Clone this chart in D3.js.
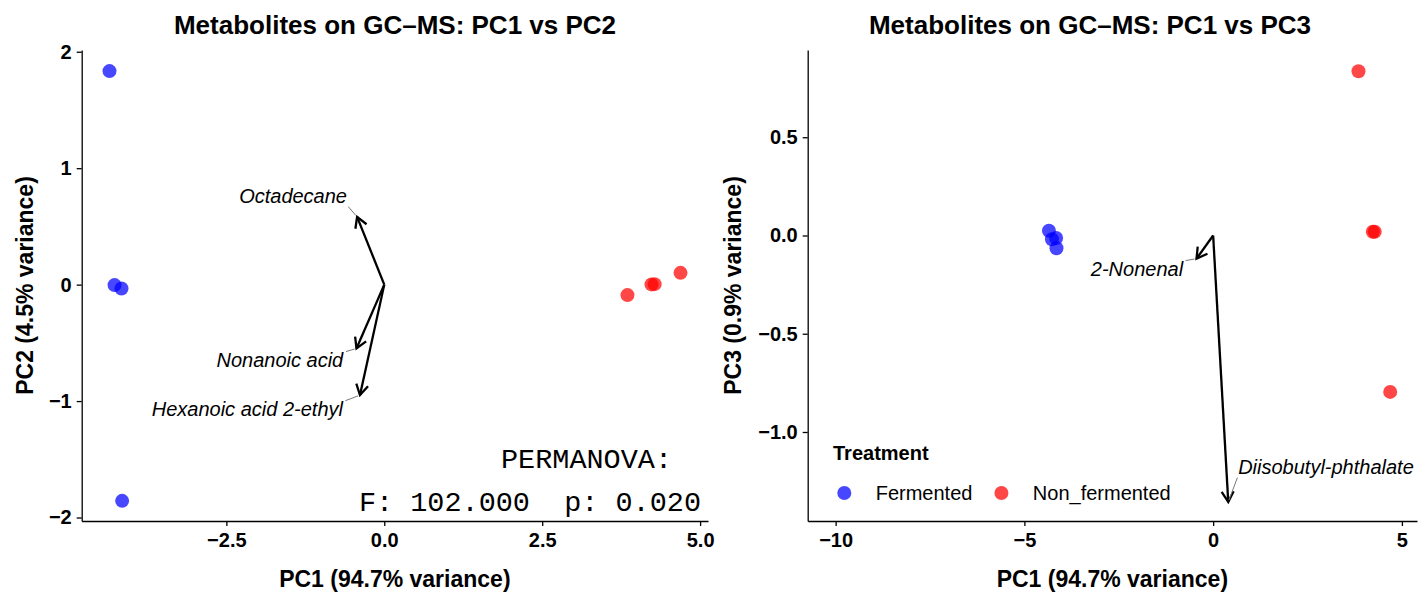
<!DOCTYPE html>
<html lang="en">
<head>
    <meta charset="UTF-8">
    <title>Metabolites on GC-MS PCA</title>
    <script src="https://cdn.jsdelivr.net/npm/d3@7/dist/d3.min.js"></script>
    <style>
        body { margin: 0; background: #fff; }
        svg { font-family: "Liberation Sans", Arial, Helvetica, sans-serif; }
        .axis path, .axis line { stroke: #000; stroke-width: 1.3; }
        .axis text { font-size: 20px; font-weight: bold; fill: #000; }
        .title { font-size: 26px; font-weight: bold; }
        .axtitle { font-size: 23px; font-weight: bold; }
        .varlab { font-size: 20px; font-style: italic; }
        .perm { font-family: "Liberation Mono", "Courier New", monospace; font-size: 28.5px; white-space: pre; }
    </style>
</head>
<body>
<div id="chart"></div>

<script>
    const width = 1419;
    const height = 594;

    // scores per sample
    const groups = ["Fermented", "Fermented", "Fermented", "Fermented",
        "Non_fermented", "Non_fermented", "Non_fermented", "Non_fermented"];
    const pc1 = [-4.35, -4.27, -4.16, -4.15, 3.85, 4.23, 4.28, 4.69];
    const pc2 = [1.834, -0.004, -0.033, -1.857, -0.090, 0.002, 0.004, 0.101];
    const pc3 = [0.024, -0.019, -0.013, -0.065, 0.836, 0.019, 0.019, -0.796];

    const groupNames = ["Fermented", "Non_fermented"];
    const groupColors = ["#0000ff", "#ff0000"];

    // loading arrows, PC1 vs PC2
    const vars12 = ["Octadecane", "Nonanoic acid", "Hexanoic acid 2-ethyl"];
    const load12x = [-0.43, -0.44, -0.385];
    const load12y = [0.582, -0.548, -0.949];
    const lab12x = [-0.59, -0.65, -0.654];
    const lab12y = [0.760, -0.649, -1.072];

    // loading arrows, PC1 vs PC3
    const vars13 = ["2-Nonenal", "Diisobutyl-phthalate"];
    const load13x = [-0.44, 0.40];
    const load13y = [-0.118, -1.356];
    const lab13x = [-0.795, 0.662];
    const lab13y = [-0.170, -1.177];

    const ticks12x = [-2.5, 0, 2.5, 5];
    const ticks12y = [-2, -1, 0, 1, 2];
    const ticks13x = [-10, -5, 0, 5];
    const ticks13y = [-1, -0.5, 0, 0.5];

    const permLines = ["PERMANOVA:", "F: 102.000  p: 0.020"];

    const color = d3.scaleOrdinal().domain(groupNames).range(groupColors);

    const svg = d3.select("#chart").append("svg")
        .attr("width", width)
        .attr("height", height);

    function drawPanel(opt) {
        const x = d3.scaleLinear().domain(opt.xDom).range([opt.left, opt.right]);
        const y = d3.scaleLinear().domain(opt.yDom).range([opt.bottom, opt.top]);
        const g = svg.append("g");

        g.append("g").attr("class", "axis")
            .attr("transform", "translate(0," + opt.bottom + ")")
            .call(d3.axisBottom(x).tickValues(opt.xTicks).tickSize(5).tickSizeOuter(0)
                .tickPadding(7).tickFormat(opt.xFmt));
        g.append("g").attr("class", "axis")
            .attr("transform", "translate(" + opt.left + ",0)")
            .call(d3.axisLeft(y).tickValues(opt.yTicks).tickSize(5).tickSizeOuter(0)
                .tickPadding(5).tickFormat(opt.yFmt));

        // points
        const yv = opt.yVals;
        g.selectAll("circle.pt").data(pc1).enter()
            .append("circle")
            .attr("class", "pt")
            .attr("cx", d => x(d))
            .attr("cy", (d, i) => y(yv[i]))
            .attr("r", 7)
            .attr("fill", (d, i) => color(groups[i]))
            .attr("fill-opacity", 0.72);

        // loading arrows
        const x0 = x(0), y0 = y(0);
        opt.vars.forEach(function (name, i) {
            const tx = x(opt.lx[i]), ty = y(opt.ly[i]);
            g.append("line")
                .attr("x1", x0).attr("y1", y0).attr("x2", tx).attr("y2", ty)
                .attr("stroke", "#000").attr("stroke-width", 2.3);
            const ang = Math.atan2(ty - y0, tx - x0);
            const hl = 12, ha = Math.PI / 6;
            const p1 = [tx - hl * Math.cos(ang - ha), ty - hl * Math.sin(ang - ha)];
            const p2 = [tx - hl * Math.cos(ang + ha), ty - hl * Math.sin(ang + ha)];
            g.append("path")
                .attr("d", "M" + p1 + "L" + tx + "," + ty + "L" + p2)
                .attr("fill", "none").attr("stroke", "#000").attr("stroke-width", 2.3)
                .attr("stroke-linejoin", "miter");

            const lx = x(opt.tx[i]), ly = y(opt.ty[i]);
            const t = g.append("text").attr("class", "varlab")
                .attr("x", lx).attr("y", ly).attr("dy", "0.35em")
                .attr("text-anchor", opt.tx[i] < opt.lx[i] ? "end" : "start")
                .text(name);
            const bb = t.node().getBBox();
            const sx = Math.max(bb.x, Math.min(tx, bb.x + bb.width));
            const sy = Math.max(bb.y + 3, Math.min(ty, bb.y + bb.height - 2));
            const dx = tx - sx, dy = ty - sy, len = Math.hypot(dx, dy);
            g.append("line")
                .attr("x1", sx + dx / len * 2).attr("y1", sy + dy / len * 2)
                .attr("x2", tx - dx / len * 2).attr("y2", ty - dy / len * 2)
                .attr("stroke", "#777").attr("stroke-width", 1);
        });

        g.append("text").attr("class", "title")
            .attr("x", opt.titleX).attr("y", 34).attr("text-anchor", "middle")
            .text(opt.title);
        g.append("text").attr("class", "axtitle")
            .attr("x", (opt.left + opt.right) / 2).attr("y", 587).attr("text-anchor", "middle")
            .text(opt.xTitle);
        g.append("text").attr("class", "axtitle")
            .attr("transform", "translate(" + opt.yTitleX + "," + (opt.top + opt.bottom) / 2 + ") rotate(-90)")
            .attr("text-anchor", "middle")
            .text(opt.yTitle);
        return {g: g, x: x, y: y};
    }

    const fmt1 = d3.format(".1f");
    const fmt0 = d3.format("d");

    const p1 = drawPanel({
        left: 81.7, right: 708, top: 50, bottom: 521,
        xDom: [-4.79, 5.125], yDom: [-2.03, 2.015],
        xTicks: ticks12x, yTicks: ticks12y, xFmt: fmt1, yFmt: fmt0,
        yVals: pc2,
        vars: vars12, lx: load12x, ly: load12y, tx: lab12x, ty: lab12y,
        title: "Metabolites on GC\u2013MS: PC1 vs PC2", titleX: 395,
        xTitle: "PC1 (94.7% variance)", yTitle: "PC2 (4.5% variance)", yTitleX: 33
    });

    const p2 = drawPanel({
        left: 807.7, right: 1417, top: 50, bottom: 521,
        xDom: [-10.74, 5.4], yDom: [-1.453, 0.944],
        xTicks: ticks13x, yTicks: ticks13y, xFmt: fmt0, yFmt: fmt1,
        yVals: pc3,
        vars: vars13, lx: load13x, ly: load13y, tx: lab13x, ty: lab13y,
        title: "Metabolites on GC\u2013MS: PC1 vs PC3", titleX: 1090,
        xTitle: "PC1 (94.7% variance)", yTitle: "PC3 (0.9% variance)", yTitleX: 741
    });

    // PERMANOVA annotation
    p1.g.selectAll("text.perm").data(permLines).enter()
        .append("text")
        .attr("class", "perm")
        .attr("x", (d, i) => i === 0 ? 672 : 701)
        .attr("y", (d, i) => 468 + i * 43)
        .attr("text-anchor", "end")
        .text(d => d);

    // legend
    const leg = p2.g.append("g");
    leg.append("text").attr("x", 833).attr("y", 460)
        .attr("font-size", 20).attr("font-weight", "bold")
        .text("Treatment");
    let kx = 844.3;
    groupNames.forEach(function (name) {
        leg.append("circle").attr("cx", kx).attr("cy", 493).attr("r", 7)
            .attr("fill", color(name)).attr("fill-opacity", 0.72);
        const t = leg.append("text").attr("x", kx + 31.4).attr("y", 493).attr("dy", "0.35em")
            .attr("font-size", 20).text(name);
        kx = kx + 31.4 + t.node().getComputedTextLength() + 29;
    });
</script>

</body>
</html>
